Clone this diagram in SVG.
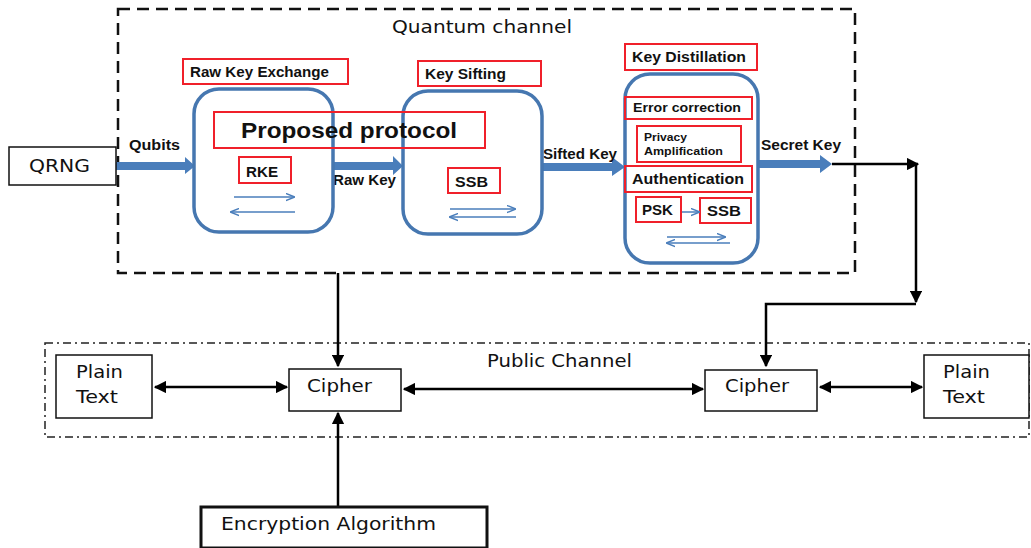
<svg xmlns="http://www.w3.org/2000/svg" width="1031" height="548" viewBox="0 0 1031 548">
<style>
.blk{fill:#fff;stroke:#111;stroke-width:1.5}
.rnd{fill:#fff;stroke:#4677b0;stroke-width:3.5}
.red{fill:none;stroke:#f0202a;stroke-width:2}
.lbl{font-family:"Liberation Sans",Arial,sans-serif;font-weight:bold;fill:#111}
.txt{font-family:"DejaVu Sans",Verdana,sans-serif;fill:#111;font-size:17px}
.ln{stroke:#000;stroke-width:2.5;fill:none}
.thin{stroke:#4a7ebb;stroke-width:1.5;fill:none}
.blue{fill:#4a7ebb}
</style>
<defs>
<marker id="ah" viewBox="0 0 10 10" refX="9" refY="5" markerWidth="5" markerHeight="5" orient="auto-start-reverse" markerUnits="strokeWidth"><path d="M0,0 L10,5 L0,10 z" fill="#000"/></marker>
<marker id="bh" viewBox="0 0 10 10" refX="9" refY="5" markerWidth="6" markerHeight="6" orient="auto-start-reverse" markerUnits="strokeWidth"><path d="M0,1 L10,5 L0,9" fill="none" stroke="#4a7ebb" stroke-width="1.5"/></marker>
</defs>
<rect width="1031" height="548" fill="#fff"/>

<g id="quantum-channel">
<rect x="118" y="9" width="737" height="264" fill="none" stroke="#111" stroke-width="2.5" stroke-dasharray="12,7"/>
<text class="txt" x="392" y="33" textLength="180" lengthAdjust="spacingAndGlyphs">Quantum  channel</text>
</g>

<g id="public-channel">
<rect x="45" y="343" width="984" height="94" fill="none" stroke="#222" stroke-width="1.5" stroke-dasharray="8,4,2,4"/>
<text class="txt" x="487" y="367" textLength="145" lengthAdjust="spacingAndGlyphs">Public Channel</text>
</g>

<g id="connectors">
<polygon class="blue" points="116,162 185,162 185,157 195,166 185,174 185,170 116,170"/>
<polygon class="blue" points="333,162 393,162 393,156 403,166 393,175 393,170 333,170"/>
<polygon class="blue" points="542,163 612,163 612,157 625,167 612,176 612,171 542,171"/>
<polygon class="blue" points="758,160 820,160 820,155 832,164 820,173 820,168 758,168"/>
<path class="ln" d="M832,164 H918" marker-end="url(#ah)"/>
<path class="ln" d="M916,164 V302" marker-end="url(#ah)"/>
<path class="ln" d="M916,304 H766 V366" marker-end="url(#ah)"/>
<path class="ln" d="M338,273 V366" marker-end="url(#ah)"/>
<path class="ln" d="M338,507 V413" marker-end="url(#ah)"/>
<path class="ln" d="M155,387 H287" marker-start="url(#ah)" marker-end="url(#ah)"/>
<path class="ln" d="M404,389 H703" marker-start="url(#ah)" marker-end="url(#ah)"/>
<path class="ln" d="M820,387 H922" marker-start="url(#ah)" marker-end="url(#ah)"/>
</g>

<g id="qrng">
<rect class="blk" x="9" y="147" width="107" height="38"/>
<text class="txt" x="29" y="172" textLength="61" lengthAdjust="spacingAndGlyphs">QRNG</text>
</g>
<text class="lbl" x="129" y="150" font-size="14" textLength="51" lengthAdjust="spacingAndGlyphs">Qubits</text>
<text class="lbl" x="333" y="185" font-size="14" textLength="63" lengthAdjust="spacingAndGlyphs">Raw Key</text>
<text class="lbl" x="543" y="159" font-size="14" textLength="74" lengthAdjust="spacingAndGlyphs">Sifted Key</text>
<text class="lbl" x="761" y="150" font-size="14" textLength="80" lengthAdjust="spacingAndGlyphs">Secret Key</text>

<g id="raw-key-exchange">
<rect class="rnd" x="194" y="89" width="139" height="143" rx="25"/>
<rect class="red" x="183" y="59" width="165" height="25"/>
<text class="lbl" x="190" y="77" font-size="14.5" textLength="139" lengthAdjust="spacingAndGlyphs">Raw Key Exchange</text>
<rect class="red" x="239" y="157" width="52" height="26"/>
<text class="lbl" x="246" y="177" font-size="15.5" textLength="32" lengthAdjust="spacingAndGlyphs">RKE</text>
<path class="thin" d="M234,197 H294" marker-end="url(#bh)"/>
<path class="thin" d="M295,212 H231" marker-end="url(#bh)"/>
</g>

<g id="key-sifting">
<rect class="rnd" x="403" y="91" width="139" height="143" rx="25"/>
<rect class="red" x="418" y="61" width="123" height="25"/>
<text class="lbl" x="425" y="79" font-size="14.5" textLength="81" lengthAdjust="spacingAndGlyphs">Key Sifting</text>
<rect class="red" x="448" y="168" width="52" height="25"/>
<text class="lbl" x="455" y="187" font-size="15.5" textLength="33" lengthAdjust="spacingAndGlyphs">SSB</text>
<path class="thin" d="M450,209 H515" marker-end="url(#bh)"/>
<path class="thin" d="M516,217 H450" marker-end="url(#bh)"/>
</g>

<g id="proposed-protocol">
<rect class="red" x="214" y="112" width="271" height="36"/>
<text class="lbl" x="241" y="138" font-size="22" textLength="216" lengthAdjust="spacingAndGlyphs">Proposed protocol</text>
</g>

<g id="key-distillation">
<rect class="rnd" x="625" y="74" width="133" height="189" rx="25"/>
<rect class="red" x="625" y="44" width="132" height="26"/>
<text class="lbl" x="632" y="62" font-size="14.5" textLength="114" lengthAdjust="spacingAndGlyphs">Key Distillation</text>
<rect class="red" x="625" y="97" width="127" height="22"/>
<text class="lbl" x="633" y="112" font-size="12.5" textLength="108" lengthAdjust="spacingAndGlyphs">Error correction</text>
<rect class="red" x="637" y="126" width="104" height="36"/>
<text class="lbl" x="644" y="141" font-size="10.5" textLength="43" lengthAdjust="spacingAndGlyphs">Privacy</text>
<text class="lbl" x="644" y="155" font-size="10.5" textLength="79" lengthAdjust="spacingAndGlyphs">Amplification</text>
<rect class="red" x="625" y="166" width="127" height="26"/>
<text class="lbl" x="632" y="184" font-size="15" textLength="112" lengthAdjust="spacingAndGlyphs">Authentication</text>
<rect class="red" x="636" y="197" width="45" height="25"/>
<text class="lbl" x="642" y="215" font-size="15.5" textLength="31" lengthAdjust="spacingAndGlyphs">PSK</text>
<rect class="red" x="700" y="198" width="51" height="25"/>
<text class="lbl" x="707" y="216" font-size="15.5" textLength="34" lengthAdjust="spacingAndGlyphs">SSB</text>
<path class="thin" d="M682,212 H699" marker-end="url(#bh)"/>
<path class="thin" d="M667,237 H725" marker-end="url(#bh)"/>
<path class="thin" d="M730,243 H667" marker-end="url(#bh)"/>
</g>

<g id="plain-text-left">
<rect class="blk" x="56" y="355" width="96" height="63"/>
<text class="txt" x="76" y="378" textLength="47" lengthAdjust="spacingAndGlyphs">Plain</text>
<text class="txt" x="76" y="403" textLength="42" lengthAdjust="spacingAndGlyphs">Text</text>
</g>

<g id="cipher-left">
<rect class="blk" x="289" y="369" width="112" height="42"/>
<text class="txt" x="307" y="392" textLength="65" lengthAdjust="spacingAndGlyphs">Cipher</text>
</g>

<g id="cipher-right">
<rect class="blk" x="705" y="370" width="112" height="41"/>
<text class="txt" x="725" y="392" textLength="64" lengthAdjust="spacingAndGlyphs">Cipher</text>
</g>

<g id="plain-text-right">
<rect class="blk" x="924" y="355" width="105" height="63"/>
<text class="txt" x="943" y="378" textLength="47" lengthAdjust="spacingAndGlyphs">Plain</text>
<text class="txt" x="943" y="403" textLength="42" lengthAdjust="spacingAndGlyphs">Text</text>
</g>

<g id="encryption-algorithm">
<rect x="201" y="507" width="286" height="41" fill="#fff" stroke="#111" stroke-width="3"/>
<text class="txt" x="221" y="530" textLength="215" lengthAdjust="spacingAndGlyphs">Encryption  Algorithm</text>
</g>
</svg>
